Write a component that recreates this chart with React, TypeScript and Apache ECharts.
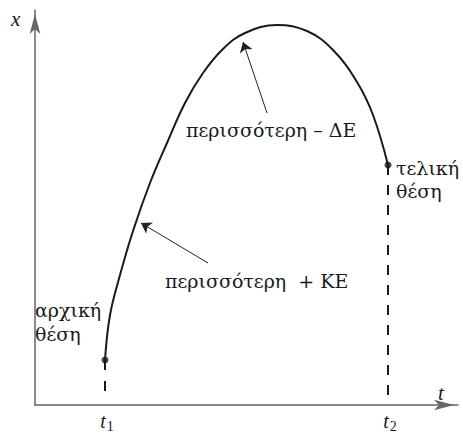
import React, { useEffect, useRef } from "react";
import * as echarts from "echarts";

// data coordinates: 1 unit = 1 px, origin at the axes' corner
const curveX = [70, 75, 85, 98, 115, 132, 150, 168, 188, 210, 242, 272, 298, 322, 338, 353];
const curveY = [45, 90, 130, 174, 222, 262, 302, 332, 356, 372, 380, 374, 355, 323, 290, 240];
const startPoint = [70, 45];
const endPoint = [353, 240];
const arrowLines = [
  [[232, 292], [208, 363]],
  [[173, 142], [106, 182]],
];
const tickValues = [70, 353];
const tickLabels = ["1", "2"];

export default function App() {
  const ref = useRef<HTMLDivElement>(null);
  useEffect(() => {
    if (!ref.current) return;
    const chart = echarts.init(ref.current, null, { renderer: "svg" });
    const serif = "DejaVu Serif";
    const txt = (text: string, left: number, top: number, size: number, italic = false, lineHeight?: number) => ({
      type: "text",
      left,
      top,
      style: {
        text,
        fontFamily: serif,
        fontSize: size,
        fontStyle: italic ? "italic" : "normal",
        lineHeight: lineHeight || size * 1.15,
        fill: "#1a1a1a",
      },
    });
    const curve = curveX.map((x, i) => [x, curveY[i]]);
    chart.setOption({
      animation: false,
      backgroundColor: "#fff",
      grid: { left: 35, right: 5, top: 10, bottom: 29, containLabel: false },
      xAxis: {
        type: "value",
        min: 0,
        max: 423,
        splitLine: { show: false },
        axisTick: { show: false },
        axisLine: {
          show: true,
          onZero: false,
          symbol: ["none", "arrow"],
          symbolSize: [8, 20],
          symbolOffset: [0, -4],
          lineStyle: { color: "#666", width: 1.5 },
        },
        axisLabel: {
          customValues: tickValues,
          margin: 6,
          formatter: (v: number) => {
            const i = tickValues.indexOf(v);
            return i < 0 ? "" : "{t|t}{s|" + tickLabels[i] + "}";
          },
          rich: {
            t: { fontFamily: "Liberation Serif", fontStyle: "italic", fontSize: 20, color: "#1a1a1a", verticalAlign: "top", lineHeight: 22, padding: [0, 0, 0, 4] },
            s: { fontFamily: "Liberation Serif", fontSize: 14, color: "#1a1a1a", verticalAlign: "bottom", lineHeight: 14, padding: [9, 0, 0, 1] },
          },
        },
      },
      yAxis: {
        type: "value",
        min: 0,
        max: 395,
        splitLine: { show: false },
        axisTick: { show: false },
        axisLabel: { show: false },
        axisLine: {
          show: true,
          onZero: false,
          symbol: ["none", "arrow"],
          symbolSize: [8, 20],
          symbolOffset: [0, -4],
          lineStyle: { color: "#666", width: 1.5 },
        },
      },
      series: [
        {
          type: "line",
          data: curve,
          smooth: 0.4,
          showSymbol: false,
          lineStyle: { color: "#1a1a1a", width: 2 },
        },
        {
          type: "line",
          data: [startPoint, [startPoint[0], 3]],
          showSymbol: false,
          lineStyle: { color: "#1a1a1a", width: 2, type: [10, 11] },
        },
        {
          type: "line",
          data: [endPoint, [endPoint[0], 3]],
          showSymbol: false,
          lineStyle: { color: "#1a1a1a", width: 2, type: [10, 10] },
        },
        {
          type: "scatter",
          data: [startPoint, endPoint],
          symbolSize: 7,
          itemStyle: { color: "#111" },
        },
        {
          type: "lines",
          coordinateSystem: "cartesian2d",
          data: arrowLines.map((c) => ({ coords: c })),
          symbol: ["none", "arrow"],
          symbolSize: [5, 10],
          lineStyle: { color: "#222", width: 1, opacity: 1 },
        },
      ],
      graphic: [
        { type: "text", left: 11, top: 8, style: { text: "x", fontFamily: "Liberation Serif", fontSize: 21, fontStyle: "italic", fill: "#1a1a1a" } },
        { type: "text", left: 438, top: 382, style: { text: "t", fontFamily: "Liberation Serif", fontSize: 21, fontStyle: "italic", fill: "#1a1a1a" } },
        txt("αρχική\nθέση", 35, 298, 19, false, 24),
        txt("τελική\nθέση", 396, 156, 19, false, 23),
        txt("περισσότερη – ΔΕ", 186, 119, 19),
        txt("περισσότερη  + ΚΕ", 165, 270, 19),
      ],
    });
    return () => chart.dispose();
  }, []);
  return <div ref={ref} style={{ width: 463, height: 434, position: "absolute", left: 0, top: 0 }} />;
}
